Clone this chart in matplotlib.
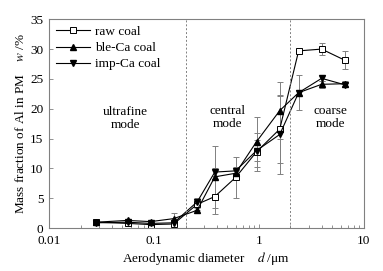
import numpy as np
import matplotlib
matplotlib.use("Agg")
import matplotlib.pyplot as plt

plt.rcParams['font.family'] = ['Liberation Serif', 'DejaVu Serif']
plt.rcParams['mathtext.fontset'] = 'stix'

# particle sizes (um) and Al mass fraction (%)
d = [0.028, 0.056, 0.093, 0.154, 0.258, 0.38, 0.60, 0.95, 1.58, 2.39, 3.96, 6.65]
raw = [1.0, 0.8, 0.6, 0.7, 4.0, 5.3, 8.5, 12.8, 16.6, 29.7, 30.0, 28.1]
raw_err = [0.2, 0.2, 0.2, 0.2, 1.0, 3.0, 3.4, 3.2, 5.6, 0.3, 1.0, 1.5]
ble = [1.0, 1.3, 1.1, 1.6, 3.0, 8.6, 9.2, 14.5, 19.7, 22.7, 24.1, 24.2]
ble_err = [0.2, 0.3, 0.3, 0.9, 0.4, 5.2, 0.5, 4.2, 4.8, 0.4, 0.6, 0.4]
imp = [0.9, 1.0, 0.8, 0.9, 4.4, 9.4, 9.6, 13.0, 15.7, 22.7, 25.1, 24.0]
imp_err = [0.2, 0.2, 0.2, 0.2, 0.5, 0.6, 0.6, 1.8, 6.6, 2.9, 0.5, 0.4]

fs = 9.5

fig = plt.figure(figsize=(3.83, 2.71), dpi=100)
ax = fig.add_axes([0.128, 0.158, 0.822, 0.771])

# error bars first (gray), then the lines with markers on top
ekw = dict(fmt='none', ecolor='gray', elinewidth=0.7, capsize=2.5, capthick=0.7)
ax.errorbar(d, raw, yerr=raw_err, **ekw)
ax.errorbar(d, ble, yerr=ble_err, **ekw)
ax.errorbar(d, imp, yerr=imp_err, **ekw)

ax.plot(d, raw, color='black', lw=0.8, marker='s', ms=4,
        mfc='white', mec='black', mew=0.7, label='raw coal')
ax.plot(d, ble, color='black', lw=0.8, marker='^', ms=4, label='ble-Ca coal')
ax.plot(d, imp, color='black', lw=0.8, marker='v', ms=4, label='imp-Ca coal')

for xv in [0.2, 2]:
    ax.axvline(xv, color='gray', ls=(0, (2, 2)), lw=0.7)

ax.text(0.053, 18.3, 'ultrafine\nmode', ha='center', va='center', fontsize=fs, linespacing=1.1)
ax.text(0.5, 18.5, 'central\nmode', ha='center', va='center', fontsize=fs, linespacing=1.1)
ax.text(4.85, 18.5, 'coarse\nmode', ha='center', va='center', fontsize=fs, linespacing=1.1)

ax.set_xscale('log')
ax.set_xlim(0.01, 10)
ax.set_ylim(0, 35)
ax.set_xticks([0.01, 0.1, 1, 10])
ax.set_xticklabels(['0.01', '0.1', '1', '10'])
ax.set_yticks(range(0, 36, 5))
ax.tick_params(direction='in', labelsize=fs, length=3, width=0.6, color='gray')
ax.tick_params(axis='x', pad=5)
ax.tick_params(axis='y', pad=4)
ax.tick_params(which='minor', direction='in', length=2, width=0.6, color='gray')
for s in ax.spines.values():
    s.set_color('gray')
    s.set_linewidth(0.8)

ax.set_xlabel(r'Aerodynamic diameter    $d$ /μm', fontsize=fs, labelpad=2)
ax.set_ylabel(r'Mass fraction of Al in PM    $w$ /%', fontsize=fs, labelpad=2)

ax.legend(loc='upper left', frameon=False, fontsize=fs, handlelength=2.6,
          borderaxespad=0.1, labelspacing=0.3, handletextpad=0.4)

fig.savefig('out.png', dpi=100)
